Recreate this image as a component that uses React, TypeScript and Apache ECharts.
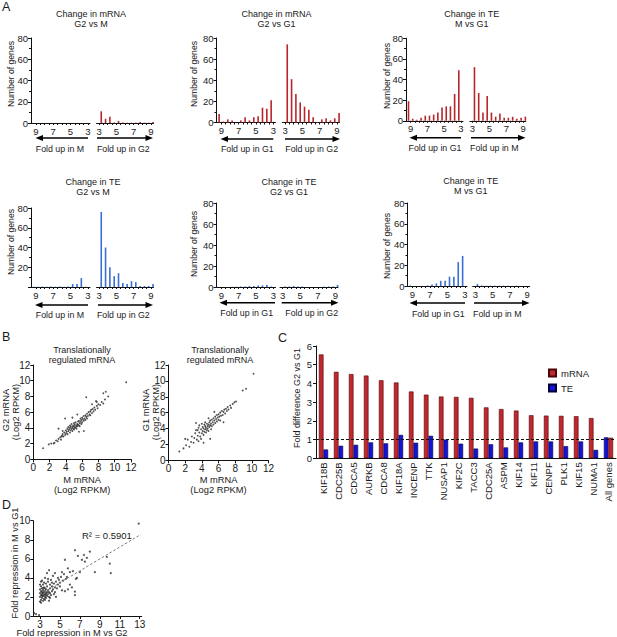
import React, { useEffect, useRef } from 'react';
import * as echarts from 'echarts';

const FONT = '"Liberation Sans", Arial, Helvetica, sans-serif';
const INK = '#1a1a1a';
const HRED = '#b8262b';
const HBLUE = '#3a6fd6';
const CRED = '#c1272d';
const CBLUE = '#1414d8';

// ---------- Panel A : histograms (bin centres, fold change) ----------
const bins = [3.25, 3.75, 4.25, 4.75, 5.25, 5.75, 6.25, 6.75, 7.25, 7.75, 8.25, 8.75, 9.25];
const xTickValues = [3, 3.5, 4, 4.5, 5, 5.5, 6, 6.5, 7, 7.5, 8, 8.5, 9];
const xLabelValues = [3, 5, 7, 9];

const mrnaG2vsM_upM = [0, 0, 0, 0, 0, 0, 0, 0, 0, 0, 0, 0, 0];
const mrnaG2vsM_upG2 = [11, 4, 6, 0.5, 2, 0.5, 0.3, 0.3, 0.3, 1, 0.3, 0.3, 1];
const mrnaG2vsG1_upG1 = [21, 13, 14, 6, 5, 2, 5, 2, 0, 2, 3, 1, 8];
const mrnaG2vsG1_upG2 = [74, 41, 27, 19, 15, 12, 5, 0.5, 3, 4, 2, 4, 9];
const teMvsG1a_upG1 = [49, 26, 14, 14, 13, 8, 6, 5, 5, 3, 1, 2, 19];
const teMvsG1a_upM = [52, 27, 8, 24, 8, 4, 7, 3, 3, 4, 2, 3, 4];
const teG2vsM_upM = [0.3, 9, 3, 3, 0.5, 0.3, 0.5, 0.3, 0.5, 0.3, 0.5, 0.3, 0.3];
const teG2vsM_upG2 = [76, 40, 20, 11, 14, 4, 3, 6, 5, 1, 1, 1, 3];
const teG2vsG1_upG1 = [0.5, 2, 1.5, 1.5, 1, 1, 0.5, 0.5, 0.3, 0.3, 0, 0, 0];
const teG2vsG1_upG2 = [0.5, 0.5, 1, 0.5, 0.5, 0, 0, 0, 0, 0.3, 0.5, 0.5, 2];
const teMvsG1b_upG1 = [29, 23, 9, 9, 5, 5, 2.5, 1.5, 0.5, 0, 0, 0, 0.5];
const teMvsG1b_upM = [2, 0.5, 0.3, 0.3, 0.3, 0.3, 0.3, 0.3, 0, 0.3, 0, 0, 0];

const histTitles = [
  ['Change in mRNA', 'G2 vs M'],
  ['Change in mRNA', 'G2 vs G1'],
  ['Change in TE', 'M vs G1'],
  ['Change in TE', 'G2 vs M'],
  ['Change in TE', 'G2 vs G1'],
  ['Change in TE', 'M vs G1'],
];
const histArrowTexts = [
  ['Fold up in M', 'Fold up in G2'],
  ['Fold up in G1', 'Fold up in G2'],
  ['Fold up in G1', 'Fold up in M'],
  ['Fold up in M', 'Fold up in G2'],
  ['Fold up in G1', 'Fold up in G2'],
  ['Fold up in G1', 'Fold up in M'],
];
const histLeftData = [mrnaG2vsM_upM, mrnaG2vsG1_upG1, teMvsG1a_upG1, teG2vsM_upM, teG2vsG1_upG1, teMvsG1b_upG1];
const histRightData = [mrnaG2vsM_upG2, mrnaG2vsG1_upG2, teMvsG1a_upM, teG2vsM_upG2, teG2vsG1_upG2, teMvsG1b_upM];
const histColors = [HRED, HRED, HRED, HBLUE, HBLUE, HBLUE];
const yTickLabel = 'Number of genes';

// ---------- Panel B : scatter (M mRNA vs G2 / G1 mRNA, log2 RPKM) ----------
const bTitle = ['Translationally', 'regulated mRNA'];
const b1Points = [
  [1.2, 1.4], [1.9, 1.9], [2.2, 2.0], [2.5, 2.0], [2.6, 2.1], [2.8, 2.4], [3.0, 2.3], [3.1, 2.6], [3.3, 2.8], [3.4, 2.5],
  [3.5, 3.0], [3.5, 2.9], [3.6, 3.2], [3.7, 2.9], [3.8, 3.4], [3.9, 3.1], [3.6, 3.6], [4.0, 3.3], [4.0, 3.7], [4.1, 3.5],
  [4.2, 3.9], [4.2, 3.2], [4.3, 3.6], [4.3, 4.1], [4.4, 3.8], [4.5, 3.4], [4.5, 4.0], [4.5, 4.3], [4.6, 3.7], [4.6, 4.2],
  [4.7, 3.9], [4.7, 4.5], [4.8, 4.1], [4.8, 3.6], [4.9, 4.3], [4.9, 3.9], [5.0, 4.2], [5.0, 4.6], [5.0, 3.8], [5.1, 4.4],
  [5.1, 4.0], [5.2, 4.1], [5.2, 4.7], [5.3, 4.3], [5.3, 3.9], [5.4, 4.5], [5.4, 4.2], [5.5, 4.8], [5.5, 4.4], [5.6, 4.3],
  [5.6, 4.9], [5.7, 4.6], [5.7, 4.2], [5.8, 4.8], [5.8, 5.2], [5.9, 4.5], [5.9, 5.0], [6.0, 5.3], [6.0, 4.7], [6.1, 5.1],
  [6.2, 5.5], [6.2, 4.9], [6.3, 5.2], [6.4, 5.6], [6.4, 5.0], [6.5, 5.4], [6.6, 5.8], [6.6, 5.2], [6.7, 5.5], [6.8, 6.0],
  [6.9, 5.7], [7.0, 6.1], [7.0, 5.6], [7.1, 6.3], [7.2, 5.9], [7.3, 6.4], [7.4, 6.1], [7.5, 6.6], [7.6, 6.3], [7.8, 6.8],
  [7.9, 6.5], [8.0, 7.0], [8.2, 6.9], [8.4, 7.3], [8.6, 7.1], [8.8, 7.6], [8.6, 8.4], [8.9, 8.6], [9.2, 8.0], [7.8, 7.3],
  [11.4, 9.8], [6.5, 7.9], [3.9, 5.2], [4.8, 5.3], [3.1, 3.9], [5.6, 3.5], [6.2, 3.6], [5.4, 5.7], [7.2, 7.0], [7.7, 7.4],
];
const b2Points = [
  [1.3, 1.1], [1.8, 1.5], [2.1, 1.9], [2.3, 2.6], [2.5, 1.7], [2.7, 2.3], [2.8, 3.0], [3.0, 2.2], [3.1, 2.8], [3.2, 3.4],
  [3.3, 4.7], [3.4, 2.6], [3.5, 3.1], [3.5, 3.8], [3.6, 2.4], [3.7, 3.5], [3.7, 4.4], [3.8, 3.0], [3.9, 3.9], [3.9, 2.7],
  [4.0, 3.4], [4.0, 4.6], [4.1, 3.7], [4.1, 4.2], [4.2, 3.2], [4.2, 4.0], [4.3, 3.6], [4.3, 4.5], [4.4, 3.9], [4.4, 4.3],
  [4.5, 3.5], [4.5, 4.1], [4.6, 4.6], [4.6, 3.8], [4.7, 4.3], [4.7, 4.0], [4.8, 4.5], [4.8, 3.7], [4.9, 4.8], [4.9, 4.2],
  [5.0, 4.4], [5.0, 2.7], [5.0, 5.0], [5.1, 4.6], [5.2, 4.3], [5.2, 5.1], [5.3, 4.8], [5.4, 4.5], [5.4, 5.3], [5.5, 5.0],
  [5.6, 4.7], [5.6, 5.5], [5.7, 5.2], [5.8, 5.7], [5.8, 4.9], [5.9, 5.4], [6.0, 5.8], [6.0, 5.1], [6.1, 5.5], [6.2, 6.0],
  [6.3, 5.6], [6.4, 6.2], [6.5, 5.7], [6.6, 4.8], [6.6, 6.1], [6.7, 6.4], [6.8, 5.9], [6.9, 6.5], [7.0, 6.2], [7.1, 6.7],
  [7.2, 6.4], [7.4, 6.9], [7.5, 6.6], [7.7, 7.1], [7.9, 7.3], [8.1, 7.4], [8.9, 8.8], [9.3, 9.0], [10.2, 10.9], [2.0, 2.7],
  [4.2, 2.2], [5.5, 6.1], [6.2, 5.0], [3.3, 3.8], [4.8, 5.3], [4.4, 4.8], [5.1, 3.9], [3.6, 4.1],
];
const bXName = ['M mRNA', '(Log2 RPKM)'];
const b1YName = ['G2 mRNA', '(Log2 RPKM)'];
const b2YName = ['G1 mRNA', '(Log2 RPKM)'];

// ---------- Panel C : fold difference G2 vs G1 ----------
const genes = ['KIF18B', 'CDC25B', 'CDCA5', 'AURKB', 'CDCA8', 'KIF18A', 'INCENP', 'TTK', 'NUSAP1', 'KIF2C',
  'TACC3', 'CDC25A', 'ASPM', 'KIF14', 'KIF11', 'CENPF', 'PLK1', 'KIF15', 'NUMA1', 'All genes'];
const mrnaFold = [5.55, 4.62, 4.5, 4.42, 4.17, 4.05, 3.57, 3.4, 3.3, 3.28, 3.23, 2.72, 2.63, 2.55, 2.3, 2.28, 2.27, 2.25, 2.15, 1.1];
const teFold = [0.47, 0.67, 0.72, 0.85, 0.8, 1.25, 0.83, 1.2, 1.0, 0.78, 0.52, 0.75, 0.58, 0.85, 0.9, 0.9, 0.65, 0.9, 0.45, 1.12];
// in the reference, the "All genes" pair is drawn TE first, then mRNA
const swappedCategory = 'All genes';
const cYName = 'Fold difference G2 vs G1';

// ---------- Panel D : fold repression ----------
const dPoints = [
  [3.0, 1.5], [3.0, 2.0], [3.0, 2.4], [3.0, 2.8], [3.1, 1.7], [3.1, 2.2], [3.1, 2.6], [3.1, 3.1], [3.1, 3.6], [3.2, 1.9],
  [3.2, 2.3], [3.2, 2.5], [3.2, 2.9], [3.2, 3.7], [3.3, 1.6], [3.3, 2.1], [3.3, 2.4], [3.3, 2.7], [3.3, 3.3], [3.4, 1.8],
  [3.4, 2.2], [3.4, 2.5], [3.4, 3.0], [3.5, 2.0], [3.5, 2.3], [3.5, 2.6], [3.5, 2.9], [3.5, 4.0], [3.6, 1.9], [3.6, 2.2],
  [3.6, 2.4], [3.6, 2.8], [3.6, 3.4], [3.7, 2.1], [3.7, 2.5], [3.7, 3.1], [3.7, 4.5], [3.8, 2.3], [3.8, 2.7], [3.8, 3.6],
  [3.9, 2.0], [3.9, 2.5], [3.9, 4.8], [4.0, 2.4], [4.0, 2.9], [4.0, 3.3], [4.1, 2.2], [4.1, 3.8], [4.2, 2.6], [4.2, 3.1],
  [4.3, 2.8], [4.3, 4.2], [4.4, 3.4], [4.5, 2.5], [4.5, 3.0], [4.5, 4.5], [4.6, 3.6], [4.7, 2.9], [4.8, 3.3], [4.8, 4.0],
  [4.9, 3.8], [5.0, 3.1], [5.0, 3.5], [5.1, 4.1], [5.2, 2.7], [5.3, 3.7], [5.4, 4.4], [5.5, 2.6], [5.5, 5.9], [5.6, 3.9],
  [5.7, 4.1], [5.8, 2.8], [6.0, 4.6], [6.0, 3.3], [6.2, 3.0], [6.5, 2.55], [6.5, 2.2], [6.6, 3.9], [6.7, 4.0], [6.5, 6.9],
  [6.8, 6.3], [7.2, 5.9], [7.4, 6.4], [7.5, 5.7], [7.7, 6.1], [8.0, 6.75], [8.5, 4.6], [9.7, 6.2], [10.0, 5.5], [10.1, 4.5],
  [12.9, 9.7], [2.6, 0.2], [2.9, 0.1], [2.4, 0.3], [3.8, 3.9], [4.2, 3.5], [5.2, 4.6], [4.4, 2.3], [3.4, 3.5], [3.1, 1.4],
  [3.9, 1.6], [4.6, 2.0], [6.3, 4.7], [7.0, 4.6], [5.8, 5.0], [3.2, 2.1], [3.5, 1.7], [3.3, 2.9], [3.0, 3.3], [4.0, 1.9],
];
const dTrend = [[3.0, 2.24], [13.1, 8.55]];
const dR2 = 'R² = 0.5901';
const dXName = 'Fold repression in M vs G2';
const dYName = 'Fold repression in M vs G1';
const dXLabels = [3, 5, 7, 9, 11, 13];

// ---------- layout (pixel positions) ----------
const histLayout = [
  { lx: 31, lw: 59, rx: 96.5, rw: 57, top: 38, h: 85, tx: 91, ty: 14, nx: 11, ny: 74, hideZero: false,
    arrowY: 138, la: [88, 35.5], ra: [97, 153], textY: 149, lt: 60, rt: 123.3 },
  { lx: 216.5, lw: 59, rx: 282.5, rw: 57, top: 38, h: 84.5, tx: 276.5, ty: 14, nx: 194, ny: 74, hideZero: false,
    arrowY: 139, la: [273.3, 220.5], ra: [285, 340], textY: 148.5, lt: 247.3, rt: 311.7 },
  { lx: 406, lw: 57, rx: 469.8, rw: 56, top: 38.3, h: 82.5, tx: 471.7, ty: 14, nx: 387, ny: 76, hideZero: false,
    arrowY: 137.7, la: [461, 409.5], ra: [471, 525.5], textY: 147.7, lt: 435, rt: 494.3 },
  { lx: 31, lw: 59, rx: 96.5, rw: 57, top: 208, h: 79, tx: 93, ty: 181.5, nx: 11, ny: 242, hideZero: true,
    arrowY: 305, la: [88, 35], ra: [98, 153], textY: 315, lt: 60, rt: 123.3 },
  { lx: 216.5, lw: 59, rx: 280, rw: 58, top: 203, h: 84, tx: 289, ty: 181.5, nx: 194, ny: 244, hideZero: false,
    arrowY: 302.7, la: [275, 219.5], ra: [281.7, 338.5], textY: 313, lt: 246.7, rt: 311.7 },
  { lx: 407.5, lw: 59.5, rx: 472.7, rw: 57, top: 203, h: 83, tx: 470.7, ty: 181, nx: 387, ny: 246, hideZero: false,
    arrowY: 303, la: [465, 409.5], ra: [474, 529.5], textY: 314, lt: 438.3, rt: 497.3 },
];

function T(x: number, y: number, text: string, size: number, extra: any = {}) {
  return {
    type: 'text', x, y, rotation: extra.rot || 0, silent: true, z: 10,
    style: {
      text, fontSize: size, fontFamily: FONT,
      fill: extra.fill || INK,
      align: extra.align || 'center', textAlign: extra.align || 'center',
      verticalAlign: 'middle', textVerticalAlign: 'middle',
    },
  };
}

function arrow(xTail: number, xHead: number, y: number) {
  const dir = xHead > xTail ? 1 : -1;
  return [
    { type: 'line', silent: true, shape: { x1: xTail, y1: y, x2: xHead - dir * 6, y2: y }, style: { stroke: '#000', lineWidth: 1.4 } },
    { type: 'polygon', silent: true, shape: { points: [[xHead, y], [xHead - dir * 7.5, y - 3], [xHead - dir * 7.5, y + 3]] }, style: { fill: '#000' } },
  ];
}

const axisLineStyle = { color: '#111', width: 1 };

function buildOption() {
  const grid: any[] = [];
  const xAxis: any[] = [];
  const yAxis: any[] = [];
  const series: any[] = [];
  const graphic: any[] = [];

  histLayout.forEach((L, i) => {
    // left half (inverse axis)
    const gl = grid.length;
    grid.push({ left: L.lx, top: L.top, width: L.lw, height: L.h, containLabel: false, outerBoundsMode: 'none' });
    xAxis.push({
      gridIndex: gl, type: 'value', min: 2.75, max: 9.55, inverse: true,
      axisLine: { show: true, onZero: false, lineStyle: axisLineStyle },
      axisTick: { show: true, customValues: xTickValues, length: 2, lineStyle: axisLineStyle },
      axisLabel: { customValues: xLabelValues, fontSize: 9.5, margin: 3, color: INK, fontFamily: FONT },
      splitLine: { show: false },
    });
    yAxis.push({
      gridIndex: gl, type: 'value', min: 0, max: 80, interval: 20,
      axisLine: { show: true, lineStyle: axisLineStyle },
      axisTick: { show: true, length: 3, lineStyle: axisLineStyle },
      minorTick: { show: true, splitNumber: 2, length: 2, lineStyle: axisLineStyle },
      axisLabel: {
        fontSize: 9.5, margin: 3, color: INK, fontFamily: FONT,
        formatter: (v: number) => (L.hideZero && v === 0 ? '' : String(v)),
      },
      splitLine: { show: false }, minorSplitLine: { show: false },
    });
    series.push({
      type: 'bar', xAxisIndex: gl, yAxisIndex: gl, barWidth: 1.6, silent: true,
      data: bins.map((b, k) => [b, histLeftData[i][k]]),
      itemStyle: { color: histColors[i] },
    });
    // right half
    const gr = grid.length;
    grid.push({ left: L.rx, top: L.top, width: L.rw, height: L.h, containLabel: false, outerBoundsMode: 'none' });
    xAxis.push({
      gridIndex: gr, type: 'value', min: 2.7, max: 9.3,
      axisLine: { show: true, onZero: false, lineStyle: axisLineStyle },
      axisTick: { show: true, customValues: xTickValues, length: 2, lineStyle: axisLineStyle },
      axisLabel: { customValues: xLabelValues, fontSize: 9.5, margin: 3, color: INK, fontFamily: FONT },
      splitLine: { show: false },
    });
    yAxis.push({ gridIndex: gr, type: 'value', min: 0, max: 80, show: false, splitLine: { show: false } });
    series.push({
      type: 'bar', xAxisIndex: gr, yAxisIndex: gr, barWidth: 1.6, silent: true,
      data: bins.map((b, k) => [b, histRightData[i][k]]),
      itemStyle: { color: histColors[i] },
    });

    graphic.push(T(L.tx, L.ty, histTitles[i][0], 9));
    graphic.push(T(L.tx, L.ty + 10, histTitles[i][1], 9));
    graphic.push(T(L.nx, L.ny, yTickLabel, 8.6, { rot: Math.PI / 2 }));
    graphic.push(...arrow(L.la[0], L.la[1], L.arrowY));
    graphic.push(...arrow(L.ra[0], L.ra[1], L.arrowY));
    graphic.push(T(L.lt, L.textY, histArrowTexts[i][0], 8.8));
    graphic.push(T(L.rt, L.textY, histArrowTexts[i][1], 8.8));
  });

  // ---- Panel B ----
  const scatterAxis = (gi: number, max: number) => ({
    gridIndex: gi, type: 'value', min: 0, max, interval: 2,
    axisLine: { show: true, onZero: false, lineStyle: axisLineStyle },
    axisTick: { show: true, length: 3, lineStyle: axisLineStyle },
    axisLabel: { fontSize: 10, margin: 3, color: INK, fontFamily: FONT },
    splitLine: { show: false },
  });
  const bGrids = [
    { left: 33.3, top: 365, width: 97.7, height: 94.3, pts: b1Points, cx: 82, yn: b1YName, ynx: [6, 16] },
    { left: 168.5, top: 365, width: 100, height: 95.3, pts: b2Points, cx: 220, yn: b2YName, ynx: [146, 156] },
  ];
  bGrids.forEach((B) => {
    const g = grid.length;
    grid.push({ left: B.left, top: B.top, width: B.width, height: B.height, containLabel: false, outerBoundsMode: 'none' });
    xAxis.push(scatterAxis(g, 12));
    yAxis.push(scatterAxis(g, 12));
    series.push({
      type: 'scatter', xAxisIndex: g, yAxisIndex: g, symbolSize: 1.8, silent: true,
      data: B.pts, itemStyle: { color: '#222' },
    });
    graphic.push(T(B.cx, 350, bTitle[0], 9));
    graphic.push(T(B.cx, 360, bTitle[1], 9));
    graphic.push(T(B.left + B.width / 2, 480, bXName[0], 9.3));
    graphic.push(T(B.left + B.width / 2, 490, bXName[1], 9.3));
    graphic.push(T(B.ynx[0], 410, B.yn[0], 9.3, { rot: Math.PI / 2 }));
    graphic.push(T(B.ynx[1], 412, B.yn[1], 9.3, { rot: Math.PI / 2 }));
  });

  // ---- Panel C ----
  const gc = grid.length;
  grid.push({ left: 316, top: 346, width: 300, height: 112.3, containLabel: false, outerBoundsMode: 'none' });
  xAxis.push({
    gridIndex: gc, type: 'category', data: genes,
    axisLine: { show: true, lineStyle: axisLineStyle },
    axisTick: { show: false },
    axisLabel: { rotate: 90, interval: 0, fontSize: 9.5, margin: 4, color: INK, fontFamily: FONT },
    splitLine: { show: false },
  });
  yAxis.push({
    gridIndex: gc, type: 'value', min: 0, max: 6, interval: 1,
    axisLine: { show: true, lineStyle: axisLineStyle },
    axisTick: { show: true, length: 3, lineStyle: axisLineStyle },
    axisLabel: { fontSize: 9.5, margin: 4, color: INK, fontFamily: FONT },
    splitLine: { show: false },
  });
  const isSwap = (k: number) => genes[k] === swappedCategory;
  const redStyle = { color: CRED, borderColor: '#4a0505', borderWidth: 0.6 };
  const blueStyle = { color: CBLUE, borderColor: '#00003a', borderWidth: 0.6 };
  // left slot: mRNA (TE for swapped category); right slot: TE (mRNA for swapped category)
  series.push({
    name: 'mRNA', type: 'bar', stack: 'slotL', xAxisIndex: gc, yAxisIndex: gc, barWidth: 4.6, barGap: '0%', silent: true,
    data: mrnaFold.map((v, k) => (isSwap(k) ? '-' : v)), itemStyle: redStyle,
    markLine: {
      silent: true, symbol: ['none', 'none'], label: { show: false },
      lineStyle: { type: [3, 2], color: '#111', width: 1 },
      data: [{ yAxis: 1 }],
    },
  });
  series.push({
    name: 'TE', type: 'bar', stack: 'slotL', xAxisIndex: gc, yAxisIndex: gc, barWidth: 4.6, barGap: '0%', silent: true,
    data: teFold.map((v, k) => (isSwap(k) ? v : '-')), itemStyle: blueStyle,
  });
  series.push({
    name: 'TE', type: 'bar', stack: 'slotR', xAxisIndex: gc, yAxisIndex: gc, barWidth: 4.6, barGap: '0%', silent: true,
    data: teFold.map((v, k) => (isSwap(k) ? '-' : v)), itemStyle: blueStyle,
  });
  series.push({
    name: 'mRNA', type: 'bar', stack: 'slotR', xAxisIndex: gc, yAxisIndex: gc, barWidth: 4.6, barGap: '0%', silent: true,
    data: mrnaFold.map((v, k) => (isSwap(k) ? v : '-')), itemStyle: redStyle,
  });
  graphic.push(T(297, 398, cYName, 9, { rot: Math.PI / 2 }));

  // ---- Panel D ----
  const gd = grid.length;
  grid.push({ left: 33.3, top: 520.7, width: 108.4, height: 95.3, containLabel: false, outerBoundsMode: 'none' });
  xAxis.push({
    gridIndex: gd, type: 'value', min: 2.33, max: 13.2,
    axisLine: { show: true, onZero: false, lineStyle: axisLineStyle },
    axisTick: { show: true, customValues: dXLabels, length: 3, lineStyle: axisLineStyle },
    axisLabel: { customValues: dXLabels, fontSize: 10, margin: 3, color: INK, fontFamily: FONT },
    splitLine: { show: false },
  });
  yAxis.push({
    gridIndex: gd, type: 'value', min: 0, max: 10, interval: 2,
    axisLine: { show: true, lineStyle: axisLineStyle },
    axisTick: { show: true, length: 3, lineStyle: axisLineStyle },
    axisLabel: { fontSize: 10, margin: 3, color: INK, fontFamily: FONT },
    splitLine: { show: false },
  });
  series.push({
    type: 'line', xAxisIndex: gd, yAxisIndex: gd, data: dTrend, symbol: 'none', silent: true,
    lineStyle: { type: [2.5, 2], color: '#777', width: 1 },
  });
  series.push({
    type: 'scatter', xAxisIndex: gd, yAxisIndex: gd, symbolSize: 2, silent: true,
    data: dPoints, itemStyle: { color: '#222' },
  });
  graphic.push(T(82, 535, dR2, 9.5, { align: 'left' }));
  graphic.push(T(72, 633, dXName, 9.3));
  graphic.push(T(15, 563, dYName, 9.3, { rot: Math.PI / 2 }));

  // panel letters
  graphic.push(T(2, 7, 'A', 12.5, { align: 'left' }));
  graphic.push(T(2, 337, 'B', 12.5, { align: 'left' }));
  graphic.push(T(278, 338, 'C', 12.5, { align: 'left' }));
  graphic.push(T(2, 505, 'D', 12.5, { align: 'left' }));

  return {
    animation: false,
    backgroundColor: '#fff',
    textStyle: { fontFamily: FONT },
    grid, xAxis, yAxis, series, graphic,
    legend: {
      data: ['mRNA', 'TE'], orient: 'vertical', left: 548, top: 368,
      itemWidth: 7, itemHeight: 7, itemGap: 5, icon: 'rect', padding: 0,
      textStyle: { fontSize: 9.5, color: INK, fontFamily: FONT },
      selectedMode: false,
    },
  };
}

export default function App() {
  const ref = useRef<HTMLDivElement>(null);
  useEffect(() => {
    const chart = echarts.init(ref.current!, null, { renderer: 'svg' });
    chart.setOption(buildOption() as any);
    return () => chart.dispose();
  }, []);
  return (
    <div
      ref={ref}
      style={{ position: 'fixed', left: 0, top: 0, width: 617, height: 637, background: '#fff' }}
    />
  );
}
